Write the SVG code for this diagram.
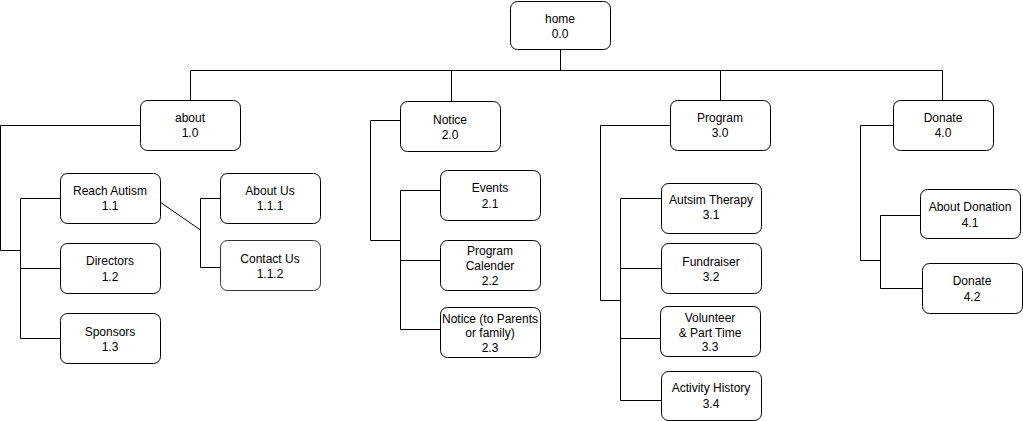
<svg xmlns="http://www.w3.org/2000/svg" width="1023" height="421" viewBox="0 0 1023 421">
<style>
.n{fill:#fff;stroke:#000;stroke-width:1}
text{font-family:"Liberation Sans",Arial,sans-serif;font-size:12px;fill:#000;text-anchor:middle}
.c{fill:none;stroke:#000;stroke-width:1}
</style>
<rect width="1023" height="421" fill="#fff"/>
<g id="connectors" class="c">
<path d="M560.5 50V70.5M190.5 100V70.5H942.5V100M451.5 70.5V101M720.5 70.5V100"/>
<path d="M140 125.5H0.5V250.5H20.5M20.5 198.5V338.5M20.5 198.5H60M20.5 268.5H60M20.5 338.5H60"/>
<path d="M160 202L200.5 230M200.5 198.5V267.5M200.5 198.5H220M200.5 267.5H220"/>
<path d="M400 120.5H370.5V240.5H400.5M400.5 190.5V329.5M400.5 190.5H440M400.5 260.5H440M400.5 329.5H440"/>
<path d="M670 125.5H600.5V300.5H620.5M620.5 198.5V400.5M620.5 198.5H661M620.5 268.5H661M620.5 338.5H660M620.5 400.5H661"/>
<path d="M893 125.5H860.5V260.5H880.5M880.5 215.5V288.5M880.5 215.5H920M880.5 288.5H922"/>
</g>
<g id="home"><rect class="n" x="510.5" y="1.5" width="100" height="48" rx="7"/><text x="560" y="23">home</text><text x="560" y="38">0.0</text></g>
<g id="about"><rect class="n" x="140.5" y="100.5" width="100" height="50" rx="7"/><text x="190" y="122">about</text><text x="190" y="137">1.0</text></g>
<g id="reach"><rect class="n" x="60.5" y="173.5" width="100" height="50" rx="7"/><text x="110" y="195">Reach Autism</text><text x="110" y="210">1.1</text></g>
<g id="directors"><rect class="n" x="60.5" y="243.5" width="100" height="50" rx="7"/><text x="110" y="265">Directors</text><text x="110" y="281">1.2</text></g>
<g id="sponsors"><rect class="n" x="60.5" y="313.5" width="100" height="50" rx="7"/><text x="110" y="336">Sponsors</text><text x="110" y="351">1.3</text></g>
<g id="aboutus"><rect class="n" x="220.5" y="173.5" width="100" height="50" rx="7"/><text x="270" y="195">About Us</text><text x="270" y="210">1.1.1</text></g>
<g id="contactus"><rect class="n" x="220.5" y="240.5" width="100" height="50" rx="7" style="stroke:#333"/><text x="270" y="263">Contact Us</text><text x="270" y="278">1.1.2</text></g>
<g id="notice"><rect class="n" x="400.5" y="101.5" width="100" height="50" rx="7"/><text x="450" y="124">Notice</text><text x="450" y="139">2.0</text></g>
<g id="events"><rect class="n" x="440.5" y="170.5" width="100" height="50" rx="7"/><text x="490" y="192">Events</text><text x="490" y="208">2.1</text></g>
<g id="calender"><rect class="n" x="440.5" y="240.5" width="100" height="50" rx="7"/><text x="490" y="255">Program</text><text x="490" y="270">Calender</text><text x="490" y="285">2.2</text></g>
<g id="noticeparents"><rect class="n" x="440.5" y="307.5" width="100" height="50" rx="7"/><text x="490" y="323">Notice (to Parents</text><text x="490" y="337">or family)</text><text x="490" y="352">2.3</text></g>
<g id="program"><rect class="n" x="670.5" y="100.5" width="100" height="50" rx="7"/><text x="720" y="122">Program</text><text x="720" y="137">3.0</text></g>
<g id="therapy"><rect class="n" x="661.5" y="183.5" width="100" height="50" rx="7"/><text x="711" y="204">Autsim Therapy</text><text x="711" y="219">3.1</text></g>
<g id="fundraiser"><rect class="n" x="661.5" y="243.5" width="100" height="50" rx="7"/><text x="711" y="266">Fundraiser</text><text x="711" y="281">3.2</text></g>
<g id="volunteer"><rect class="n" x="660.5" y="306.5" width="100" height="50" rx="7"/><text x="710" y="322">Volunteer</text><text x="710" y="337">&amp; Part Time</text><text x="710" y="351">3.3</text></g>
<g id="activity"><rect class="n" x="661.5" y="371.5" width="100" height="49" rx="7"/><text x="711" y="392">Activity History</text><text x="711" y="408">3.4</text></g>
<g id="donate"><rect class="n" x="893.5" y="100.5" width="100" height="50" rx="7"/><text x="943" y="122">Donate</text><text x="943" y="137">4.0</text></g>
<g id="aboutdonation"><rect class="n" x="920.5" y="189.5" width="100" height="49" rx="7"/><text x="970" y="211">About Donation</text><text x="970" y="227">4.1</text></g>
<g id="donate2"><rect class="n" x="922.5" y="263.5" width="100" height="50" rx="7"/><text x="972" y="285">Donate</text><text x="972" y="301">4.2</text></g>
</svg>
